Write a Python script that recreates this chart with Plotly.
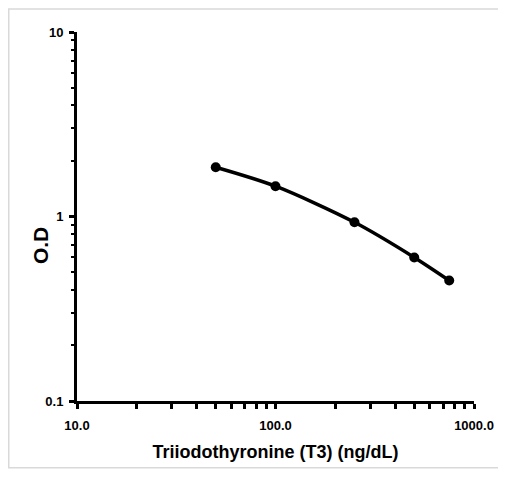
import plotly.graph_objects as go

# Data
concentration = [50, 100, 250, 500, 750]          # ng/dL
od_values = [1.85, 1.46, 0.93, 0.60, 0.45]
x_tick_vals = [10, 100, 1000]
x_tick_text = ["10.0", "100.0", "1000.0"]
y_tick_vals = [0.1, 1, 10]
y_tick_text = ["0.1", "1", "10"]

FONT = "Liberation Sans, Arial, sans-serif"

fig = go.Figure()
fig.add_trace(go.Scatter(
    x=concentration, y=od_values, mode="lines+markers",
    line=dict(color="black", width=3.5, shape="spline", smoothing=0.8),
    marker=dict(color="black", size=10, symbol="circle"),
    showlegend=False,
))

axis_common = dict(
    showline=True, linecolor="black", linewidth=3, mirror=False,
    showgrid=False, zeroline=False,
    ticks="outside", ticklen=5, tickwidth=2.5, tickcolor="black",
    tickfont=dict(family=FONT, size=13, color="black", weight="bold"),
)

fig.update_xaxes(
    type="log", range=[1, 3],
    tickmode="array", tickvals=x_tick_vals, ticktext=x_tick_text,
    ticklabelstandoff=5,
    minor=dict(ticks="outside", ticklen=5, tickwidth=2.5, tickcolor="black",
               dtick="D1", showgrid=False),
    title=dict(text="Triiodothyronine (T3) (ng/dL)",
               font=dict(family=FONT, size=18, color="black", weight="bold"),
               standoff=14),
    **axis_common,
)
fig.update_yaxes(
    type="log", range=[-1, 1],
    tickmode="array", tickvals=y_tick_vals, ticktext=y_tick_text,
    ticklabelstandoff=3,
    minor=dict(ticks="outside", ticklen=3, tickwidth=1.5, tickcolor="black",
               dtick="D1", showgrid=False),
    **axis_common,
)

fig.add_annotation(
    text="O.D", xref="paper", yref="paper", x=-0.093, y=0.42,
    textangle=-90, showarrow=False,
    font=dict(family=FONT, size=21, color="black", weight="bold"),
    xanchor="center", yanchor="middle",
)

# light outer frame
fig.add_shape(type="rect", xref="paper", yref="paper",
              x0=(0.75 - 69) / 397, x1=(492 - 69) / 397,
              y0=(395 - 462) / 371, y1=(395 - 0.75) / 371,
              line=dict(color="#d9d9d9", width=1.5))

fig.update_layout(
    width=498, height=463,
    margin=dict(l=69, r=32, t=24, b=68),
    paper_bgcolor="white", plot_bgcolor="white",
)

fig.write_html("out.html")
